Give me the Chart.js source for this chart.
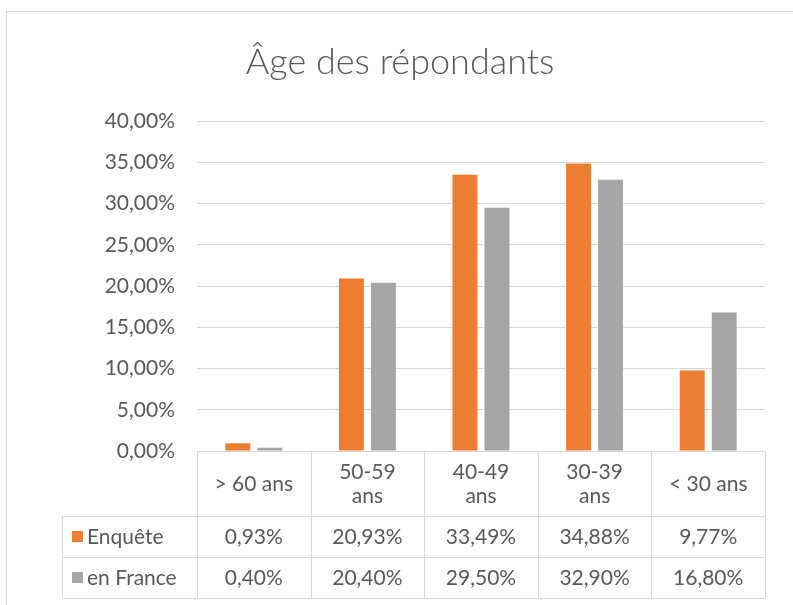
<!DOCTYPE html>
<html><head><meta charset="utf-8">
<script src="https://cdn.jsdelivr.net/npm/chart.js@4"></script>
<style>html,body{margin:0;padding:0;background:#fff}#wrap{width:793px;height:605px}</style>
</head><body><div id="wrap"><canvas id="c" width="793" height="605"></canvas></div>
<script>
const categories = ["> 60 ans", "50-59 ans", "40-49 ans", "30-39 ans", "< 30 ans"];
const categoryLines = [["> 60 ans"], ["50-59", "ans"], ["40-49", "ans"], ["30-39", "ans"], ["< 30 ans"]];
const seriesNames = ["Enquête", "en France"];
const enquete = [0.0093, 0.2093, 0.3349, 0.3488, 0.0977];
const enFrance = [0.0040, 0.2040, 0.2950, 0.3290, 0.1680];
const yTicks = [0, 0.05, 0.10, 0.15, 0.20, 0.25, 0.30, 0.35, 0.40];
const titleText = "Âge des répondants";

const FONT = "Lato, 'Open Sans', sans-serif";
const TXT = "#595959";
const LINE = "#D9D9D9";
const fmt = v => (v * 100).toFixed(2).replace('.', ',') + '%';

const tablePlugin = {
  id: 'dataTable',
  beforeDraw(chart) {
    const ctx = chart.ctx;
    ctx.save();
    ctx.fillStyle = '#fff';
    ctx.fillRect(0, 0, chart.width, chart.height);
    ctx.strokeStyle = LINE;
    ctx.lineWidth = 1;
    ctx.strokeRect(6.5, 11.5, chart.width, chart.height);
    ctx.restore();
  },
  afterDraw(chart) {
    const { ctx, chartArea: a, scales: { x } } = chart;
    const n = categories.length;
    const cw = (a.right - a.left) / n;
    const y0 = Math.round(a.bottom) + 0.5, y1 = y0 + 65, y2 = y1 + 41, y3 = y2 + 41;
    const lx = 62.5;
    ctx.save();
    ctx.strokeStyle = LINE;
    ctx.lineWidth = 1;
    ctx.beginPath();
    ctx.moveTo(a.left, y0); ctx.lineTo(a.right, y0);
    [y1, y2, y3].forEach(y => { ctx.moveTo(lx, y); ctx.lineTo(a.right, y); });
    for (let i = 0; i <= n; i++) {
      const xx = Math.round(a.left + i * cw) + 0.5;
      ctx.moveTo(xx, y0); ctx.lineTo(xx, y3);
    }
    ctx.moveTo(lx, y1); ctx.lineTo(lx, y3);
    ctx.stroke();

    ctx.fillStyle = TXT;
    ctx.font = "21px " + FONT;
    ctx.textAlign = 'center';
    ctx.textBaseline = 'middle';
    categoryLines.forEach((lines, i) => {
      const cx = x.getPixelForValue(i);
      const cy = (y0 + y1) / 2;
      const lh = 24;
      lines.forEach((t, k) => {
        ctx.fillText(t, cx, cy + (k - (lines.length - 1) / 2) * lh);
      });
    });
    const rows = [y1, y2];
    chart.data.datasets.forEach((ds, r) => {
      const cy = (rows[r] + rows[r] + 41) / 2;
      ctx.fillStyle = ds.backgroundColor;
      ctx.fillRect(lx + 9.5, cy - 6, 11, 11);
      ctx.fillStyle = TXT;
      ctx.textAlign = 'left';
      ctx.fillText(ds.label, lx + 24.5, cy);
      ctx.textAlign = 'center';
      ds.data.forEach((v, i) => {
        ctx.fillText(fmt(v), x.getPixelForValue(i), cy);
      });
    });
    ctx.restore();
  }
};

new Chart(document.getElementById('c'), {
  type: 'bar',
  data: {
    labels: categories,
    datasets: [
      { label: seriesNames[0], data: enquete, backgroundColor: '#ED7D31' },
      { label: seriesNames[1], data: enFrance, backgroundColor: '#A5A5A5' }
    ]
  },
  options: {
    responsive: false,
    animation: false,
    devicePixelRatio: 1,
    layout: { padding: { left: 35, right: 28, top: 12, bottom: 154 } },
    datasets: { bar: { barPercentage: 0.78, categoryPercentage: 0.563 } },
    plugins: {
      legend: { display: false },
      tooltip: { enabled: false },
      title: {
        display: true,
        text: titleText,
        color: TXT,
        font: { family: FONT, size: 36, weight: '300' },
        padding: { top: 29, bottom: 37 }
      }
    },
    scales: {
      x: { display: false, grid: { display: false } },
      y: {
        min: 0, max: 0.4,
        afterFit(s) { s.width = 162; },
        afterBuildTicks(s) { s.ticks = yTicks.map(v => ({ value: v })); },
        border: { display: false },
        grid: { color: LINE, drawTicks: false, lineWidth: 1 },
        ticks: { padding: 22, color: TXT, font: { family: FONT, size: 21 }, callback: v => fmt(v) }
      }
    }
  },
  plugins: [tablePlugin]
});
</script>
</body></html>
